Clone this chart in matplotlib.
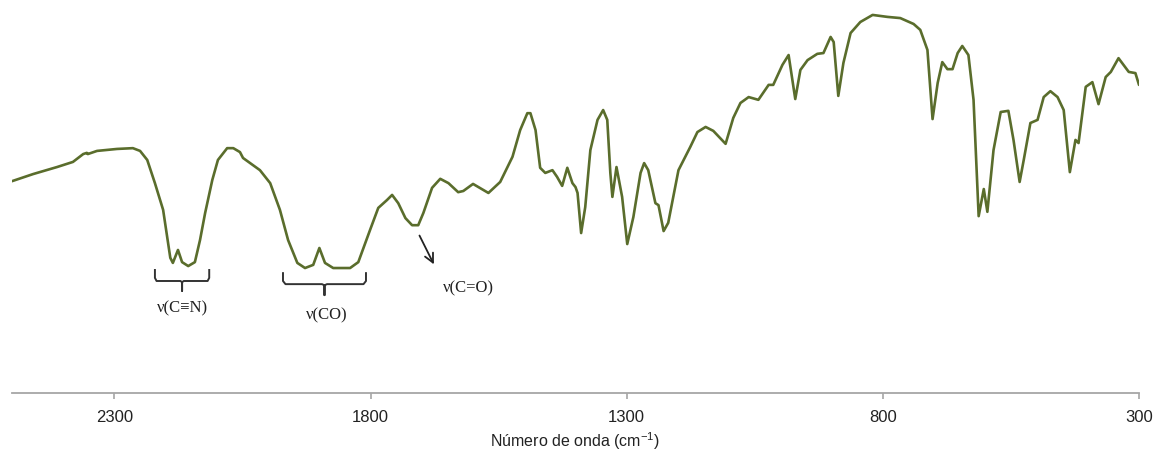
import matplotlib
matplotlib.use('Agg')
import matplotlib.pyplot as plt

plt.rcParams['mathtext.default'] = 'regular'

# espectro IR: numero de onda (cm-1) e transmitancia (%)
wavenumber = [
    2500, 2459, 2412, 2381, 2361, 2354, 2352, 2334, 2295, 2264, 2250, 2236,
    2221, 2205, 2197, 2191, 2186, 2176, 2168, 2156, 2143, 2133, 2123, 2109,
    2098, 2080, 2068, 2055, 2049, 2016, 1996, 1977, 1961, 1943, 1928, 1912,
    1900, 1889, 1873, 1840, 1824, 1801, 1785, 1768, 1758, 1746, 1732, 1719,
    1707, 1697, 1680, 1664, 1648, 1629, 1619, 1600, 1570, 1547, 1523, 1508,
    1494, 1488, 1478, 1469, 1459, 1445, 1436, 1426, 1416, 1406, 1400, 1396,
    1389, 1381, 1371, 1357, 1346, 1338, 1332, 1328, 1320, 1309, 1299, 1287,
    1273, 1266, 1258, 1244, 1238, 1228, 1219, 1199, 1176, 1162, 1146, 1131,
    1107, 1092, 1078, 1062, 1043, 1023, 1014, 996, 984, 971, 961, 947,
    928, 916, 902, 896, 887, 877, 863, 844, 820, 791, 766, 740,
    727, 713, 703, 693, 684, 674, 664, 654, 645, 633, 623, 613,
    603, 596, 584, 570, 555, 545, 533, 525, 512, 498, 486, 473,
    459, 447, 435, 424, 418, 404, 391, 379, 365, 355, 340, 320,
    307, 300,
]
transmittance = [
    53.9, 55.7, 57.5, 58.8, 60.8, 61.1, 60.8, 61.6, 62.1, 62.3, 61.6, 59.3,
    53.4, 46.6, 39.7, 34.4, 33.1, 36.4, 33.3, 32.3, 33.3, 38.9, 45.8, 54.2,
    59.3, 62.3, 62.3, 61.3, 59.8, 56.7, 53.4, 46.6, 38.9, 33.1, 31.8, 32.6,
    36.9, 33.1, 31.8, 31.8, 33.3, 41.5, 47.1, 49.1, 50.4, 48.3, 44.5, 42.7,
    42.7, 45.8, 52.2, 54.5, 53.4, 51.1, 51.4, 53.2, 50.9, 53.7, 60.1, 66.9,
    71.2, 71.2, 66.9, 57.3, 56.0, 56.7, 55.0, 52.7, 57.3, 53.4, 52.4, 50.9,
    40.7, 47.3, 61.8, 69.5, 72.0, 69.5, 56.0, 49.9, 57.5, 49.9, 37.9, 44.8,
    56.0, 58.5, 56.7, 48.3, 47.8, 41.2, 43.3, 56.7, 62.6, 66.4, 67.7, 66.7,
    63.4, 70.0, 73.8, 75.3, 74.6, 78.4, 78.4, 83.5, 86.0, 74.8, 82.2, 84.7,
    86.3, 86.5, 90.6, 89.3, 75.6, 84.0, 91.6, 94.4, 96.2, 95.7, 95.4, 93.9,
    92.4, 87.3, 69.7, 78.9, 84.2, 82.4, 82.4, 86.5, 88.3, 86.0, 74.6, 45.0,
    51.9, 46.1, 61.8, 71.5, 71.8, 64.4, 53.7, 59.3, 68.7, 69.5, 75.3, 76.8,
    75.3, 72.0, 56.2, 64.4, 63.6, 77.9, 79.1, 73.5, 80.4, 81.7, 85.2, 81.7,
    81.4, 78.4,
]

xticks = [2300, 1800, 1300, 800, 300]

# anotacoes: (inicio, fim) em cm-1 e rotulos
bracket_spans = [(2221, 2115), (1971, 1809)]
bracket_levels = [(31.3, 28.5, 26.0), (30.5, 27.7, 24.9)]
bracket_labels = ['ν(C≡N)', 'ν(CO)']
bracket_label_pos = [(2168, 21.6), (1885, 19.8)]
arrow_start = (1707, 40.7)
arrow_end = (1674, 32.1)
arrow_label = 'ν(C=O)'
arrow_label_pos = (1609, 26.7)

fig = plt.figure(figsize=(11.57, 4.54), dpi=100)
ax = fig.add_axes([12 / 1157, 61 / 454, 1127 / 1157, 393 / 454])

ax.plot(wavenumber, transmittance, color='#5a6d2c', lw=1.9,
        solid_joinstyle='round', solid_capstyle='round')

ax.set_xlim(2500, 300)
ax.set_ylim(0, 100)
ax.set_xticks(xticks)
ax.set_yticks([])

for s in ['left', 'top', 'right']:
    ax.spines[s].set_visible(False)
ax.spines['bottom'].set_color('#a6a6a6')
ax.spines['bottom'].set_linewidth(1.3)
ax.tick_params(axis='x', colors='#a6a6a6', length=4, width=1.2, pad=8,
               labelcolor='#222222', labelsize=12)
for lb in ax.get_xticklabels():
    lb.set_family(['Liberation Sans', 'DejaVu Sans'])
ax.set_xlabel('Número de onda (cm$^{-1}$)', fontsize=11.5, color='#222222',
              family=['Liberation Sans', 'DejaVu Sans'], labelpad=4)

serif = ['Liberation Serif', 'DejaVu Serif']

# chaves sob as bandas
for (x0, x1), (top, bot, cusp), lab, (tx, ty) in zip(
        bracket_spans, bracket_levels, bracket_labels, bracket_label_pos):
    xc = (x0 + x1) / 2
    dx = (x0 - x1) * 0.03
    xs = [x0, x0, x0 - dx, xc + dx, xc, xc, xc, xc - dx, x1 + dx, x1, x1]
    ys = [top, bot + 0.8, bot, bot, bot - 0.3, cusp, bot - 0.3, bot, bot, bot + 0.8, top]
    ax.plot(xs, ys, color='#333333', lw=1.4, solid_joinstyle='round')
    ax.text(tx, ty, lab, ha='center', va='center', fontsize=12,
            family=serif, color='#222222')

ax.annotate('', xy=arrow_end, xytext=arrow_start,
            arrowprops=dict(arrowstyle='->', color='#222222', lw=1.3,
                            mutation_scale=16))
ax.text(arrow_label_pos[0], arrow_label_pos[1], arrow_label, ha='center',
        va='center', fontsize=12, family=serif, color='#222222')

fig.savefig('out.png', dpi=100)
